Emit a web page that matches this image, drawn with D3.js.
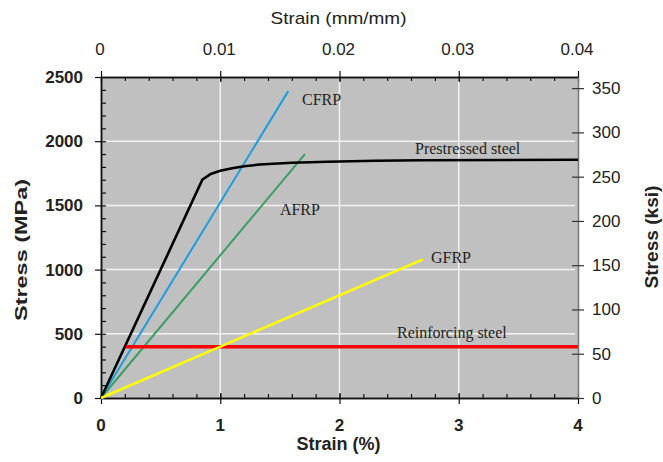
<!DOCTYPE html>
<html>
<head>
<meta charset="utf-8">
<script src="https://cdn.jsdelivr.net/npm/d3@7"></script>
<style>
  body { margin: 0; background: #fff; }
  .tick-lbl { font-family: Arial, "Liberation Sans", sans-serif; fill: #222; }
  .note { font-family: "Liberation Serif", "Times New Roman", serif; font-size: 16px; fill: #222; }
</style>
</head>
<body>
<svg id="chart" width="663" height="462"></svg>
<script>
// DATA: strain (%) vs stress (MPa)
const prestressed = [[0, 0], [0.85, 1700], [0.92, 1745], [1.0, 1770], [1.1, 1790], [1.2, 1805],
    [1.33, 1818], [1.6, 1832], [1.9, 1840], [2.3, 1848], [2.7, 1852], [4.0, 1855]];
const cfrp = [[0, 0], [1.57, 2390]];
const afrp = [[0, 0], [1.71, 1900]];
const gfrp = [[0, 0], [2.7, 1080]];
const reinforcing = [[0.21, 400], [4.0, 400]];

const strainTicks = [0, 1, 2, 3, 4];
const strainMmTicks = [0, 0.01, 0.02, 0.03, 0.04];
const stressTicks = [0, 500, 1000, 1500, 2000, 2500];
const ksiTicks = [0, 50, 100, 150, 200, 250, 300, 350];

const labels = [
    { text: "CFRP", strain: 1.686, stress: 2282 },
    { text: "Prestressed steel", strain: 2.633, stress: 1900 },
    { text: "AFRP", strain: 1.50, stress: 1425 },
    { text: "GFRP", strain: 2.767, stress: 1051 },
    { text: "Reinforcing steel", strain: 2.482, stress: 467 }
];

// SETUP
const margin = { top: 77, left: 101 },
    width = 477,
    height = 321;
const MPA_PER_KSI = 6.895;

const svg = d3.select("#chart")
    .append("g")
    .attr("transform", `translate(${margin.left},${margin.top})`);

// SCALES
const x = d3.scaleLinear().domain([0, 4]).range([0, width]);
const xTop = d3.scaleLinear().domain([0, 0.04]).range([0, width]);
const y = d3.scaleLinear().domain([0, 2500]).range([height, 0]);
const yRight = d3.scaleLinear().domain([0, 2500 / MPA_PER_KSI]).range([height, 0]);

// plot background
svg.append("rect")
    .attr("width", width)
    .attr("height", height)
    .attr("fill", "#c0c0c0");

// gridlines
svg.append("g")
    .selectAll("line")
    .data(stressTicks.filter(d => d > 0 && d < 2500))
    .join("line")
    .attr("x1", 0).attr("x2", width - 3)
    .attr("y1", d => y(d)).attr("y2", d => y(d))
    .attr("stroke", "#f2f2f2").attr("stroke-width", 1.5);

svg.append("g")
    .selectAll("line")
    .data(strainTicks.filter(d => d > 0 && d < 4))
    .join("line")
    .attr("x1", d => x(d)).attr("x2", d => x(d))
    .attr("y1", 0).attr("y2", height)
    .attr("stroke", "#f2f2f2").attr("stroke-width", 1.5);

// AXES
function styleAxis(g, color) {
    g.select(".domain").attr("stroke", color).attr("stroke-width", 1.5);
    g.selectAll("line").attr("stroke", color).attr("stroke-width", 1.2);
    g.selectAll("text").remove();
}

// minor ticks (inward)
svg.append("g")
    .call(d3.axisLeft(y).tickValues(d3.range(100, 2500, 100)).tickSize(-5).tickSizeOuter(0))
    .call(g => styleAxis(g, "#111"));
svg.append("g")
    .attr("transform", `translate(0,${height})`)
    .call(d3.axisBottom(x).tickValues(d3.range(0.2, 4, 0.2)).tickSize(-4).tickSizeOuter(0))
    .call(g => styleAxis(g, "#111"));
svg.append("g")
    .call(d3.axisTop(xTop).tickValues(d3.range(0.002, 0.04, 0.002)).tickSize(-4).tickSizeOuter(0))
    .call(g => styleAxis(g, "#111"));

// major ticks
svg.append("g")
    .call(d3.axisLeft(y).tickValues(stressTicks).tickSize(6).tickSizeOuter(0))
    .call(g => styleAxis(g, "#111"));
svg.append("g")
    .attr("transform", `translate(0,${height})`)
    .call(d3.axisBottom(x).tickValues(strainTicks).tickSize(6).tickSizeOuter(0))
    .call(g => styleAxis(g, "#111"))
    .call(g => g.selectAll(".tick line").attr("y1", -5));
svg.append("g")
    .call(d3.axisTop(xTop).tickValues(strainMmTicks).tickSize(6).tickSizeOuter(0))
    .call(g => styleAxis(g, "#111"))
    .call(g => g.selectAll(".tick line").attr("y1", 5));
svg.append("g")
    .attr("transform", `translate(${width},0)`)
    .call(d3.axisRight(yRight).tickValues(ksiTicks).tickSize(6).tickSizeOuter(0))
    .call(g => styleAxis(g, "#777"))
    .call(g => g.selectAll(".tick line").attr("x1", -6).attr("stroke", "#333"));

// tick labels
svg.append("g").selectAll("text")
    .data(stressTicks).join("text")
    .attr("class", "tick-lbl")
    .attr("x", -18).attr("y", d => y(d))
    .attr("dy", "0.35em")
    .attr("text-anchor", "end")
    .attr("font-size", 17).attr("font-weight", "bold")
    .text(d => d);

svg.append("g").selectAll("text")
    .data(strainTicks).join("text")
    .attr("class", "tick-lbl")
    .attr("x", d => x(d)).attr("y", height + 33)
    .attr("text-anchor", "middle")
    .attr("font-size", 17).attr("font-weight", "bold")
    .text(d => d);

svg.append("g").selectAll("text")
    .data(strainMmTicks).join("text")
    .attr("class", "tick-lbl")
    .attr("x", d => xTop(d) - 1).attr("y", -22)
    .attr("text-anchor", "middle")
    .attr("font-size", 17)
    .text(d => d);

svg.append("g").selectAll("text")
    .data(ksiTicks).join("text")
    .attr("class", "tick-lbl")
    .attr("x", width + 14).attr("y", d => yRight(d))
    .attr("dy", "0.35em")
    .attr("font-size", 17)
    .text(d => d);

// axis titles
svg.append("text")
    .attr("class", "tick-lbl")
    .attr("x", width / 2 - 1).attr("y", -53)
    .attr("text-anchor", "middle")
    .attr("font-size", 17)
    .attr("textLength", 136).attr("lengthAdjust", "spacingAndGlyphs")
    .text("Strain (mm/mm)");

svg.append("text")
    .attr("class", "tick-lbl")
    .attr("x", width / 2 - 1).attr("y", height + 52)
    .attr("text-anchor", "middle")
    .attr("font-size", 18).attr("font-weight", "bold")
    .text("Strain (%)");

svg.append("text")
    .attr("class", "tick-lbl")
    .attr("transform", "rotate(-90)")
    .attr("x", -173).attr("y", -74)
    .attr("text-anchor", "middle")
    .attr("font-size", 17).attr("font-weight", "bold")
    .attr("textLength", 142).attr("lengthAdjust", "spacingAndGlyphs")
    .text("Stress (MPa)");

svg.append("text")
    .attr("class", "tick-lbl")
    .attr("transform", "rotate(-90)")
    .attr("x", -160).attr("y", width + 80)
    .attr("text-anchor", "middle")
    .attr("font-size", 18).attr("font-weight", "bold")
    .attr("textLength", 103).attr("lengthAdjust", "spacingAndGlyphs")
    .text("Stress (ksi)");

// LINES
const line = d3.line()
    .x(d => x(d[0]))
    .y(d => y(d[1]));

const series = [
    { data: afrp, color: "#3a9e62", w: 2 },
    { data: cfrp, color: "#1e9ddc", w: 2 },
    { data: prestressed, color: "#000", w: 2.6 },
    { data: reinforcing, color: "#ff0000", w: 3.5 },
    { data: gfrp, color: "#ffff00", w: 2.5 }
];

svg.selectAll(".series")
    .data(series)
    .join("path")
    .attr("class", "series")
    .attr("d", d => line(d.data))
    .attr("fill", "none")
    .attr("stroke", d => d.color)
    .attr("stroke-width", d => d.w);

// curve labels
svg.selectAll(".note")
    .data(labels)
    .join("text")
    .attr("class", "note")
    .attr("x", d => x(d.strain))
    .attr("y", d => y(d.stress))
    .text(d => d.text);
</script>
</body>
</html>
